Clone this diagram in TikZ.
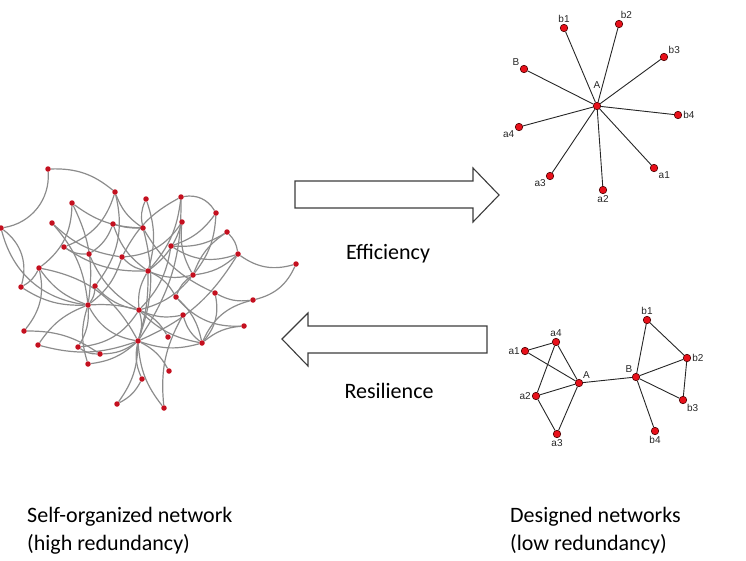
\documentclass[tikz,border=0pt]{standalone}
\usepackage{fontspec}
\setmainfont{Carlito}
\newfontfamily\labfont{Liberation Sans}
\usetikzlibrary{backgrounds}
\definecolor{netred}{HTML}{C4101F}
\definecolor{dotred}{HTML}{E8101A}
\definecolor{edgegray}{HTML}{8C8C8C}
\definecolor{arrgray}{HTML}{3C3C3C}
\tikzset{dot/.style={circle,fill=netred,inner sep=0pt,minimum size=5.5pt},sdot/.style={circle,draw=black!70!red,fill=dotred,line width=.6pt,inner sep=0pt,minimum size=7.5pt},ln/.style={draw=edgegray,line width=1.2pt},sl/.style={draw=black!85,line width=.9pt},lab/.style={font=\labfont\fontsize{10}{11}\selectfont,inner sep=1pt,text=black!85},blockarr/.style={draw=arrgray,line width=1.1pt,fill=white},captxt/.style={font=\fontsize{22}{28}\selectfont,anchor=west,align=left,inner sep=0pt}}

\begin{document}
\begin{tikzpicture}[x=1pt,y=-1pt]
\useasboundingbox (0,0) rectangle (746,560);
\foreach \n/\x/\y in {1/48/169,2/115/192,3/146/199,4/181/197,5/72/203,6/216/213,7/52/223,8/113/224,9/143/228,10/182/222,11/227/232,12/1/228,13/64/247,14/171/246,15/89/254,16/122/257,17/238/254,18/39/268,19/148/271,20/296/264,21/193/275,22/21/287,23/95/286,24/215/293,25/176/297,26/253/300,27/88/305,28/139/310,29/183/315,30/244/326,31/24/331,32/168/337,33/138/341,34/202/343,35/38/345,36/78/347,37/100/354,38/88/364,39/169/371,40/142/379,41/117/404,42/164/408}
  \node[dot] (n\n) at (\x,\y) {};
\begin{scope}[on background layer]
\foreach \a/\b/\c in {1/2/12,1/12/25,12/22/20,12/27/-20,2/9/-10,2/23/15,2/13/15,3/19/10,3/9/-10,4/6/20,4/19/10,4/33/10,4/16/-10,5/9/-10,5/18/15,5/27/10,7/16/-10,7/27/10,8/9/-5,8/15/10,8/19/-10,9/33/10,10/19/10,10/16/15,10/21/-10,6/21/10,6/14/10,11/21/-10,11/14/10,14/17/-15,14/28/10,17/20/-15,17/21/10,17/33/10,13/15/-10,13/19/-10,15/28/-10,16/27/10,16/19/-10,18/22/10,18/31/15,18/27/-10,18/33/15,19/21/-10,19/25/10,19/28/-10,19/33/5,20/26/15,21/28/10,21/25/-10,22/27/-10,23/27/10,23/28/-10,27/28/5,27/33/-15,27/36/10,27/38/-10,28/33/10,28/29/-10,28/34/-10,31/37/10,35/33/-10,35/27/10,36/37/-10,36/28/-15,37/33/-10,38/33/-10,33/40/-10,33/41/10,33/42/-10,33/34/-10,33/39/10,34/24/-15,34/26/15,34/30/10,34/25/-10,34/29/10,32/28/-10,40/41/10,42/29/10,24/26/-10,30/25/15,9/24/-10,11/17/10}
  {\pgfmathsetmacro\bnd{1.7*\c}
  \draw[ln] (n\a) to[bend left=\bnd] (n\b);}
\end{scope}
\draw[blockarr] (295,181) -- (473,181) -- (473,168) -- (499,195) -- (473,222) -- (473,208) -- (295,208) -- cycle;
\draw[blockarr] (487,326) -- (308,326) -- (308,313) -- (282,339) -- (308,366) -- (308,353) -- (487,353) -- cycle;
\node[font=\fontsize{22}{26}\selectfont] (eff) at (388,254) {Efficiency};
\node[font=\fontsize{22}{26}\selectfont] (res) at (389,391) {Resilience};
\node[sdot,label={[lab,label distance=12pt]90:A}] (sA) at (597,106) {};
\node[sdot,label={[lab]90:b1}] (sb1) at (564,28) {};
\node[sdot,label={[lab]80:b2}] (sb2) at (619,24) {};
\node[sdot,label={[lab]30:b3}] (sb3) at (664,57) {};
\node[sdot,label={[lab]0:b4}] (sb4) at (678,115) {};
\node[sdot,label={[lab]150:B}] (sB) at (524,69) {};
\node[sdot,label={[lab]210:a4}] (sa4) at (519,127) {};
\node[sdot,label={[lab]330:a1}] (sa1) at (654,168) {};
\node[sdot,label={[lab]220:a3}] (sa3) at (550,176) {};
\node[sdot,label={[lab]270:a2}] (sa2) at (603,190) {};
\foreach \t in {sb1,sb2,sb3,sb4,sB,sa4,sa1,sa3,sa2}
  \draw[sl] (sA) -- (\t);
\node[sdot,label={[lab]180:a1}] (da1) at (525,351) {};
\node[sdot,label={[lab]90:a4}] (da4) at (556,342) {};
\node[sdot,label={[lab]45:A}] (dA) at (579,383) {};
\node[sdot,label={[lab]180:a2}] (da2) at (536,396) {};
\node[sdot,label={[lab]270:a3}] (da3) at (557,434) {};
\node[sdot,label={[lab]130:B}] (dB) at (636,377) {};
\node[sdot,label={[lab]90:b1}] (db1) at (647,320) {};
\node[sdot,label={[lab]0:b2}] (db2) at (687,358) {};
\node[sdot,label={[lab]315:b3}] (db3) at (683,400) {};
\node[sdot,label={[lab]270:b4}] (db4) at (655,431) {};
\begin{scope}[on background layer]
\foreach \a/\b in {da1/da4,da1/dA,da4/dA,da4/da2,da2/dA,da2/da3,da3/dA,dA/dB,dB/db1,dB/db2,dB/db3,dB/db4,db1/db2,db2/db3}
  \draw[sl] (\a) -- (\b);
\end{scope}
\node[captxt] (left) at (27,531) {Self-organized network\\(high redundancy)};
\node[captxt] (right) at (510,531) {Designed networks\\(low redundancy)};
\end{tikzpicture}
\end{document}
